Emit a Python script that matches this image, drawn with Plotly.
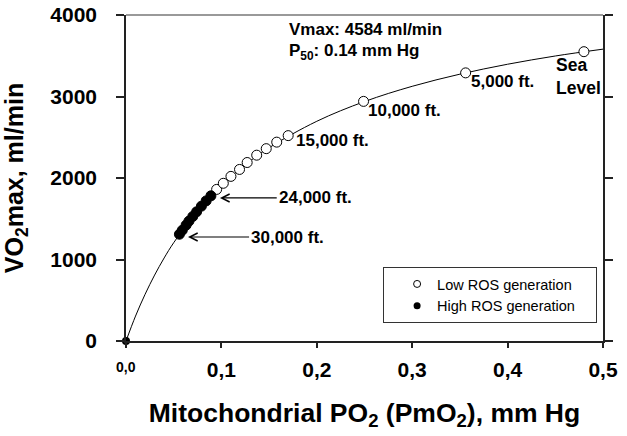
import plotly.graph_objects as go

# ---- data ----
curve_x = [0.0, 0.01, 0.02, 0.03, 0.04, 0.05, 0.075, 0.1, 0.125, 0.15, 0.2, 0.25, 0.3, 0.35, 0.4, 0.45, 0.5]
curve_y = [0, 306, 573, 809, 1019, 1206, 1599, 1910, 2162, 2371, 2696, 2938, 3125, 3274, 3396, 3497, 3581]

low_x = [0.095, 0.102, 0.110, 0.119, 0.127, 0.137, 0.147, 0.158, 0.170, 0.249, 0.356, 0.480]
low_y = [1860, 1935, 2020, 2105, 2190, 2280, 2360, 2440, 2520, 2940, 3290, 3550]

high_x = [0.056, 0.059, 0.063, 0.066, 0.070, 0.074, 0.079, 0.084, 0.089]
high_y = [1310, 1359, 1422, 1471, 1528, 1585, 1654, 1719, 1781]

origin_x = [0.0]
origin_y = [0]

x_tick_vals = [0.0, 0.1, 0.2, 0.3, 0.4, 0.5]
x_tick_text = ['', '0,1', '0,2', '0,3', '0,4', '0,5']
x_zero_label = '0,0'
y_tick_vals = [0, 1000, 2000, 3000, 4000]
y_tick_text = ['0', '1000', '2000', '3000', '4000']

FONT = "Arial, Liberation Sans, sans-serif"

fig = go.Figure()
fig.add_trace(go.Scatter(x=curve_x, y=curve_y, mode="lines", line=dict(color="black", width=1, shape="spline"),
                         showlegend=False, hoverinfo="skip"))
fig.add_trace(go.Scatter(x=origin_x, y=origin_y, mode="markers", marker=dict(color="black", size=8),
                         showlegend=False, cliponaxis=False))
fig.add_trace(go.Scatter(x=low_x, y=low_y, mode="markers",
                         marker=dict(symbol="circle", size=10, color="white", line=dict(color="black", width=1)),
                         showlegend=False, cliponaxis=False))
fig.add_trace(go.Scatter(x=high_x, y=high_y, mode="markers",
                         marker=dict(symbol="circle", size=10, color="black", line=dict(color="black", width=1)),
                         showlegend=False, cliponaxis=False))
# legend entries
fig.add_trace(go.Scatter(x=[None], y=[None], mode="markers", name="Low ROS generation",
                         marker=dict(symbol="circle", size=7, color="white", line=dict(color="black", width=1))))
fig.add_trace(go.Scatter(x=[None], y=[None], mode="markers", name="High ROS generation&nbsp;&nbsp;&nbsp;&nbsp;",
                         marker=dict(symbol="circle", size=7, color="black")))

ann_font = dict(family=FONT, size=17, color="black")
annotations = [
    dict(x=0.169, y=3828, text="<b>Vmax: 4584 ml/min</b>", xanchor="left", yanchor="middle", showarrow=False, font=ann_font),
    dict(x=0.169, y=3546, text="<b>P<sub>50</sub>: 0.14 mm Hg</b>", xanchor="left", yanchor="middle", showarrow=False, font=ann_font),
    dict(x=0.176, y=2465, text="<b>15,000 ft.</b>", xanchor="left", yanchor="middle", showarrow=False, font=ann_font),
    dict(x=0.252, y=2830, text="<b>10,000 ft.</b>", xanchor="left", yanchor="middle", showarrow=False, font=ann_font),
    dict(x=0.360, y=3190, text="<b>5,000 ft.</b>", xanchor="left", yanchor="middle", showarrow=False, font=ann_font),
    dict(x=0.449, y=3245, text="<b>Sea<br>Level</b>", xanchor="left", yanchor="middle", align="left",
         showarrow=False, font=dict(family=FONT, size=17.5, color="black")),
    dict(x=0.0985, y=1755, ax=0.158, ay=1755, axref="x", ayref="y", text="<b>24,000 ft.</b>",
         xanchor="left", yanchor="middle", showarrow=True, font=ann_font,
         arrowhead=5, arrowsize=1.3, arrowwidth=1.2, arrowcolor="black"),
    dict(x=0.065, y=1276, ax=0.129, ay=1276, axref="x", ayref="y", text="<b>30,000 ft.</b>",
         xanchor="left", yanchor="middle", showarrow=True, font=ann_font,
         arrowhead=5, arrowsize=1.3, arrowwidth=1.2, arrowcolor="black"),
    dict(x=0, y=0, xref="x", yref="paper", yshift=-26, text="<b>" + x_zero_label + "</b>",
         xanchor="center", yanchor="middle", showarrow=False, font=dict(family=FONT, size=14, color="black")),
]

fig.update_layout(
    width=627, height=436,
    margin=dict(l=126, r=24, t=15, b=95),
    paper_bgcolor="white", plot_bgcolor="white",
    font=dict(family=FONT, color="black"),
    annotations=annotations,
    shapes=[dict(type="line", xref="paper", yref="paper", x0=0, x1=1, y0=1, y1=1,
                 line=dict(color="#777777", width=1.5))],
    legend=dict(x=0.539, y=0.227, xanchor="left", yanchor="top", bgcolor="white",
                bordercolor="#333333", borderwidth=1, font=dict(family=FONT, size=14.5, color="black"),
                indentation=13, tracegroupgap=0),
    xaxis=dict(range=[0, 0.5], tickmode="array", tickvals=x_tick_vals, ticktext=x_tick_text,
               automargin=False,
               showgrid=False, zeroline=False, showline=True, linecolor="#222222", linewidth=1.5,
               ticks="outside", ticklen=5, tickwidth=2, tickcolor="#222222", ticklabelstandoff=4,
               tickfont=dict(family=FONT, size=21, color="black", weight="bold"),
               title=dict(text="<b>Mitochondrial PO<sub>2</sub> (PmO<sub>2</sub>), mm Hg</b>",
                          font=dict(family=FONT, size=26.5, color="black"), standoff=23)),
    yaxis=dict(range=[0, 4000], tickmode="array", tickvals=y_tick_vals, ticktext=y_tick_text,
               automargin=False,
               showgrid=False, zeroline=False, showline=True, linecolor="#222222", linewidth=1.5,
               mirror="ticks", ticks="outside", ticklen=8, tickwidth=2, tickcolor="#222222",
               ticklabelstandoff=15,
               tickfont=dict(family=FONT, size=21, color="black", weight="bold"),
               title=dict(text="<b>VO<sub>2</sub>max, ml/min</b>",
                          font=dict(family=FONT, size=25, color="black"), standoff=21)),
)

fig.write_html("out.html", config={"displayModeBar": False},
               post_script="document.body.style.margin='0';")
